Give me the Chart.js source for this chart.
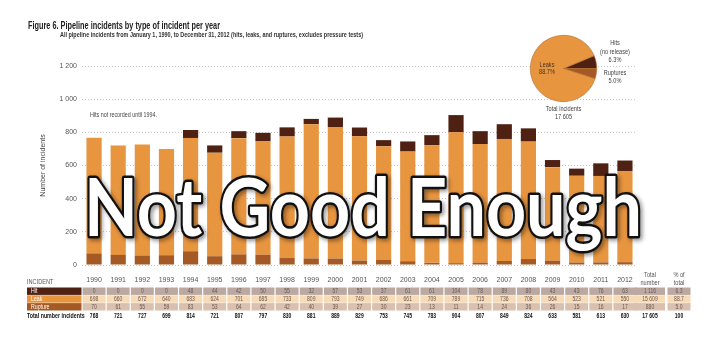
<!DOCTYPE html>
<html>
<head>
<meta charset="utf-8">
<script src="https://cdn.jsdelivr.net/npm/chart.js@4/dist/chart.umd.min.js"></script>
<style>
  html, body { margin: 0; padding: 0; background: #fff; }
  #wrap { position: relative; width: 710px; height: 346px; overflow: hidden; background: #fff; }
  #main { position: absolute; left: 0; top: 0; }
  #pie { position: absolute; left: 520px; top: 0; }
</style>
</head>
<body>
<div id="wrap">
  <canvas id="main" width="710" height="346"></canvas>
  <canvas id="pie" width="190" height="130"></canvas>
</div>
<script>
// Pipeline incidents by type, 1990–2012
const years = ['1990','1991','1992','1993','1994','1995','1996','1997','1998','1999','2000',
               '2001','2002','2003','2004','2005','2006','2007','2008','2009','2010','2011','2012'];
const hits      = [0, 0, 0, 0, 48, 44, 42, 50, 55, 32, 57, 53, 37, 61, 61, 104, 78, 89, 80, 43, 43, 76, 63];
const leaks     = [698, 660, 672, 640, 683, 624, 701, 685, 733, 809, 793, 749, 686, 661, 709, 789, 715, 736, 708, 564, 523, 521, 550];
const ruptures  = [70, 61, 55, 59, 83, 53, 64, 62, 42, 40, 39, 27, 30, 23, 13, 11, 14, 24, 36, 26, 15, 16, 17];
const yTicks    = [0, 200, 400, 600, 800, 1000, 1200];
const pieLabels = ['Hits', 'Ruptures', 'Leaks'];

const HIT_C = '#4f2113', LEAK_C = '#e8953f', RUP_C = '#a55a25';
const FONT = "'Liberation Sans Narrow','Arial Narrow','Liberation Sans',Arial,sans-serif";

const sum = a => a.reduce((s, v) => s + v, 0);
const fmt = n => String(n).replace(/\B(?=(\d{3})+(?!\d))/g, ' ');
const yearTotals = years.map((_, i) => hits[i] + leaks[i] + ruptures[i]);
const typeTotals = [sum(hits), sum(leaks), sum(ruptures)];
const grand = sum(typeTotals);
const typeShares = typeTotals.map(v => Math.round(v / grand * 1000) / 10);   // hit, leak, rupture (%)
const pieShares = [typeShares[0], typeShares[2], typeShares[1]];              // hits, ruptures, leaks

// Text helper: draws a string, optionally squeezed horizontally to a given width or factor
function txt(ctx, s, x, y, o) {
  ctx.save();
  ctx.font = o.font;
  ctx.fillStyle = o.color || '#333';
  ctx.textAlign = o.align || 'left';
  ctx.textBaseline = o.baseline || 'middle';
  let sx = o.sx || 1;
  if (o.width) sx = o.width / ctx.measureText(s).width;
  ctx.translate(x, y);
  ctx.scale(sx, 1);
  ctx.fillText(s, 0, 0);
  ctx.restore();
}

const decorPlugin = {
  id: 'decor',
  afterDraw(chart) {
    const ctx = chart.ctx;
    const x = chart.scales.x;
    const F = (w, px) => `${w} ${px}px 'Liberation Sans', Arial, sans-serif`;

    // Heading
    txt(ctx, 'Figure 6. Pipeline incidents by type of incident per year', 28, 29,
        { font: F('bold', 10.5), color: '#222', baseline: 'alphabetic', width: 192 });
    txt(ctx, 'All pipeline incidents from January 1, 1990, to December 31, 2012 (hits, leaks, and ruptures, excludes pressure tests)',
        60, 36.5, { font: F('bold', 7), color: '#333', baseline: 'alphabetic', width: 303 });

    // Note
    txt(ctx, 'Hits not recorded until 1994.', 90, 115, { font: F('normal', 6.5), color: '#444', width: 67 });

    // Data table under the axis
    const SQ = 0.8;
    const slot = x.width / years.length;
    const cw = slot - 1.2;
    const rows = [
      { name: 'Hit',     vals: hits,     head: HIT_C,  cell: '#bba8a1', tot: fmt(typeTotals[0]), pct: typeShares[0].toFixed(1) },
      { name: 'Leak',    vals: leaks,    head: LEAK_C, cell: '#f7dab6', tot: fmt(typeTotals[1]), pct: typeShares[1].toFixed(1) },
      { name: 'Rupture', vals: ruptures, head: RUP_C,  cell: '#d9c0af', tot: fmt(typeTotals[2]), pct: typeShares[2].toFixed(1) }
    ];
    const top0 = 287.5, rh = 7.8;
    const totC = 650, totW = 30, pctC = 679, pctW = 23;

    txt(ctx, 'INCIDENT', 27, 282, { font: F('normal', 7), color: '#555', sx: SQ });
    txt(ctx, 'Total', totC, 275, { font: F('normal', 7), color: '#555', align: 'center', sx: SQ });
    txt(ctx, 'number', totC, 283, { font: F('normal', 7), color: '#555', align: 'center', sx: SQ });
    txt(ctx, '% of', pctC, 275, { font: F('normal', 7), color: '#555', align: 'center', sx: SQ });
    txt(ctx, 'total', pctC, 283, { font: F('normal', 7), color: '#555', align: 'center', sx: SQ });

    rows.forEach((r, k) => {
      const y0 = top0 + k * rh;
      const ym = y0 + rh / 2;
      ctx.fillStyle = r.head;
      ctx.fillRect(27, y0, 54.5, rh - 0.4);
      txt(ctx, r.name, 31, ym, { font: F('normal', 6.5), color: '#fff', sx: SQ });
      r.vals.forEach((v, i) => {
        const cx = x.getPixelForValue(i);
        ctx.fillStyle = r.cell;
        ctx.fillRect(cx - cw / 2, y0, cw, rh - 0.4);
        txt(ctx, String(v), cx, ym, { font: F('normal', 6.3), color: '#6a5a52', align: 'center', sx: SQ });
      });
      ctx.fillStyle = r.cell;
      ctx.fillRect(totC - totW / 2, y0, totW, rh - 0.4);
      ctx.fillRect(pctC - pctW / 2, y0, pctW, rh - 0.4);
      txt(ctx, r.tot, totC, ym, { font: F('normal', 6.3), color: '#6a5a52', align: 'center', sx: SQ });
      txt(ctx, r.pct, pctC, ym, { font: F('normal', 6.3), color: '#6a5a52', align: 'center', sx: SQ });
    });

    const yt = 316;
    txt(ctx, 'Total number incidents', 27, yt, { font: F('bold', 6.6), color: '#111', sx: SQ });
    yearTotals.forEach((v, i) => {
      txt(ctx, String(v), x.getPixelForValue(i), yt, { font: F('bold', 6.3), color: '#111', align: 'center', sx: SQ });
    });
    txt(ctx, fmt(grand), totC, yt, { font: F('bold', 6.3), color: '#111', align: 'center', sx: SQ });
    txt(ctx, '100', pctC, yt, { font: F('bold', 6.3), color: '#111', align: 'center', sx: SQ });

    // Banner across the plot
    ctx.save();
    ctx.font = "bold 80px Lato, 'Open Sans', sans-serif";
    ctx.textAlign = 'left';
    ctx.textBaseline = 'alphabetic';
    const banner = 'Not Good Enough';
    const bw = ctx.measureText(banner).width;
    ctx.translate(84, 236);
    ctx.scale(558 / bw, 1);
    ctx.lineJoin = 'round';
    ctx.shadowColor = 'rgba(0,0,0,0.45)';
    ctx.shadowBlur = 4;
    ctx.shadowOffsetX = 2;
    ctx.shadowOffsetY = 2;
    ctx.lineWidth = 5;
    ctx.strokeStyle = '#111';
    ctx.strokeText(banner, 0, 0);
    ctx.shadowColor = 'transparent';
    ctx.fillStyle = '#fff';
    ctx.fillText(banner, 0, 0);
    ctx.restore();
  }
};

new Chart(document.getElementById('main'), {
  type: 'bar',
  data: {
    labels: years,
    datasets: [
      { label: 'Rupture', data: ruptures, backgroundColor: RUP_C },
      { label: 'Leak',    data: leaks,    backgroundColor: LEAK_C },
      { label: 'Hit',     data: hits,     backgroundColor: HIT_C }
    ]
  },
  options: {
    responsive: false,
    animation: false,
    layout: { padding: { left: 37, right: 73, top: 66, bottom: 0 } },
    datasets: { bar: { categoryPercentage: 1, barPercentage: 0.63 } },
    plugins: { legend: { display: false }, tooltip: { enabled: false } },
    scales: {
      x: {
        stacked: true,
        grid: { display: false },
        border: { display: false },
        ticks: { font: { family: FONT, size: 7 }, color: '#555', padding: 3, maxRotation: 0, autoSkip: false },
        afterFit: s => { s.height = 81; }
      },
      y: {
        stacked: true,
        min: 0,
        max: 1200,
        afterBuildTicks: s => { s.ticks = yTicks.map(v => ({ value: v })); },
        ticks: { callback: v => fmt(v), font: { family: FONT, size: 7 }, color: '#555', padding: 5 },
        grid: { color: '#c4c4c4', lineWidth: 1, drawTicks: false },
        border: { display: false, dash: [1, 2] },
        title: { display: true, text: 'Number of incidents', font: { family: FONT, size: 7 }, color: '#444', padding: { top: 2, bottom: 0 } },
        afterFit: s => { s.width = 45; }
      }
    }
  },
  plugins: [decorPlugin]
});

// Share of all incidents, with its labels
const pieText = {
  id: 'pieText',
  afterDraw(chart) {
    const ctx = chart.ctx;
    const F = px => `normal ${px}px 'Liberation Sans', Arial, sans-serif`;
    const o = (c) => ({ font: F(6.6), color: c || '#444', align: 'center', sx: 0.85 });
    txt(ctx, 'Leaks', 27, 65, o('#4a3222'));
    txt(ctx, typeShares[1].toFixed(1) + '%', 27, 72.5, o('#4a3222'));
    txt(ctx, 'Hits', 95, 43.5, o());
    txt(ctx, '(no release)', 95, 52, o());
    txt(ctx, typeShares[0].toFixed(1) + '%', 95, 60, o());
    txt(ctx, 'Ruptures', 95, 73.5, o());
    txt(ctx, typeShares[2].toFixed(1) + '%', 95, 81.5, o());
    txt(ctx, 'Total incidents', 43.5, 109.5, o());
    txt(ctx, fmt(grand), 43.5, 117.5, o());
  }
};

new Chart(document.getElementById('pie'), {
  type: 'pie',
  data: {
    labels: pieLabels,
    datasets: [{ data: pieShares, backgroundColor: [HIT_C, RUP_C, LEAK_C], borderColor: '#b06d30', borderWidth: 0.6 }]
  },
  options: {
    responsive: false,
    animation: false,
    rotation: 90 - pieShares[0] * 3.6,
    layout: { padding: { left: 10, right: 113, top: 35, bottom: 28 } },
    plugins: { legend: { display: false }, tooltip: { enabled: false } }
  },
  plugins: [pieText]
});
</script>
</body>
</html>
